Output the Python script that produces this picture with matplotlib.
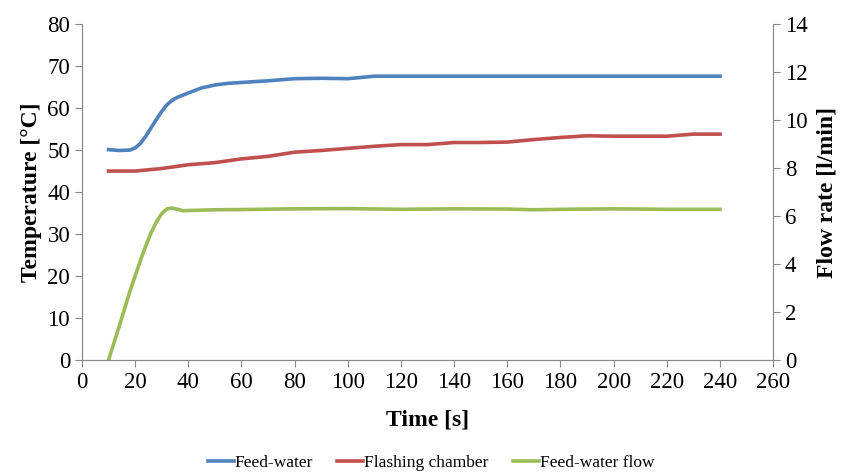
import matplotlib.pyplot as plt

plt.rcParams['font.family'] = ['Liberation Serif', 'DejaVu Serif']

# feed-water temperature [°C]
fw_time = [10, 14, 18, 20, 22, 24, 26, 28, 30, 32, 34, 36, 40, 45, 50, 55, 60,
           70, 80, 90, 100, 105, 110, 120, 240]
fw_temp = [50.1, 49.9, 50.0, 50.5, 51.6, 53.3, 55.3, 57.3, 59.2, 60.8, 61.9,
           62.6, 63.6, 64.8, 65.5, 65.9, 66.1, 66.5, 67.0, 67.1, 67.0, 67.3,
           67.6, 67.6, 67.6]

# flashing chamber temperature [°C]
fc_time = [10, 20, 30, 40, 50, 60, 70, 80, 90, 100, 110, 120, 130, 140, 150,
           160, 170, 180, 190, 200, 210, 220, 230, 240]
fc_temp = [45.0, 45.0, 45.6, 46.5, 47.0, 47.9, 48.5, 49.5, 49.9, 50.4, 50.9,
           51.3, 51.3, 51.8, 51.8, 51.9, 52.5, 53.0, 53.4, 53.3, 53.3, 53.3,
           53.8, 53.8]

# feed-water flow [l/min]
flow_time = [10, 14, 18, 20, 22, 24, 26, 28, 30, 32, 34, 36, 38, 40, 50, 60,
             80, 100, 120, 140, 160, 170, 180, 200, 220, 240]
flow_rate = [0.0, 1.4, 2.85, 3.5, 4.15, 4.75, 5.3, 5.75, 6.1, 6.3, 6.33, 6.28,
             6.22, 6.23, 6.26, 6.27, 6.3, 6.31, 6.28, 6.3, 6.29, 6.26, 6.28,
             6.3, 6.28, 6.28]

blue = '#4F81BD'
red = '#C0504D'
green = '#9BBB59'
grey = '#888888'

fig = plt.figure(figsize=(8.45, 4.73), dpi=100)
ax = fig.add_axes([0.097, 0.239, 0.818, 0.71])
ax2 = ax.twinx()

l1, = ax.plot(fw_time, fw_temp, color=blue, lw=2.6, label='Feed-water')
l2, = ax.plot(fc_time, fc_temp, color=red, lw=2.6, label='Flashing chamber')
l3, = ax2.plot(flow_time, flow_rate, color=green, lw=2.6, label='Feed-water flow')

ax.set_xlim(0, 260)
ax.set_ylim(0, 80)
ax2.set_ylim(0, 14)
ax.set_xticks(range(0, 261, 20))
ax.set_yticks(range(0, 81, 10))
ax2.set_yticks(range(0, 15, 2))

for a in (ax, ax2):
    a.spines['top'].set_visible(False)
    for s in ('left', 'right', 'bottom'):
        a.spines[s].set_color(grey)
    a.tick_params(colors=grey, labelcolor='black', labelsize=16.5, length=5)

ax.set_xlabel('Time [s]', fontsize=17, fontweight='bold', labelpad=12)
ax.set_ylabel('Temperature [°C]', fontsize=17, fontweight='bold', labelpad=4)
ax2.set_ylabel('Flow rate [l/min]', fontsize=17, fontweight='bold', labelpad=6)

fig.legend(handles=[l1, l2, l3], loc='center', bbox_to_anchor=(0.51, 0.022),
           ncol=3, frameon=False, fontsize=12.5, handlelength=1.5,
           handletextpad=0.05, columnspacing=1.4)

fig.savefig('out.png', dpi=100)
